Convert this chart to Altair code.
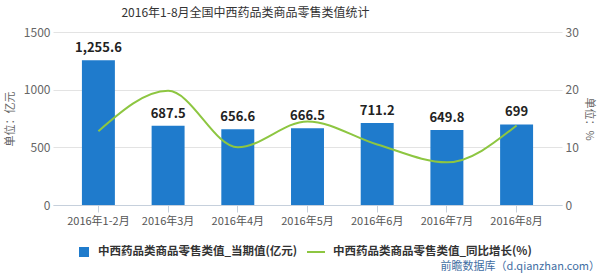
import altair as alt
import pandas as pd

months = ["2016年1-2月", "2016年3月", "2016年4月", "2016年5月", "2016年6月", "2016年7月", "2016年8月"]
values = [1255.6, 687.5, 656.6, 666.5, 711.2, 649.8, 699]
growth = [12.8, 19.8, 10.0, 14.5, 10.5, 7.4, 13.8]
left_ticks = [0, 500, 1000, 1500]
right_ticks = [0, 10, 20, 30]

s1 = "中西药品类商品零售类值_当期值(亿元)"
s2 = "中西药品类商品零售类值_同比增长(%)"

df = pd.DataFrame({"月份": months, "当期值": values, "同比增长": growth, "s1": s1, "s2": s2})

FONT = "Noto Sans CJK SC"
BAR = "#1f7bcc"
LINE = "#8dc641"

x = alt.X("月份:N", sort=months,
          scale=alt.Scale(paddingInner=0.527, paddingOuter=0.415),
          axis=alt.Axis(title=None, labelAngle=0, labelFontSize=11, labelColor="#555",
                        domainColor="#c6d0dc", tickColor="#c6d0dc", tickSize=7,
                        labelPadding=3, grid=False))

bars = alt.Chart(df).mark_bar().encode(
    x=x,
    y=alt.Y("当期值:Q", scale=alt.Scale(domain=[0, 1500]),
            axis=alt.Axis(values=left_ticks, format="d", title="单位：亿元", titleFontSize=11,
                          titleFontWeight="normal", titleColor="#666", titlePadding=8,
                          labelFontSize=12, labelColor="#666", labelPadding=3,
                          tickSize=0, domain=False, grid=True, gridColor="#e3e3e3")),
    fill=alt.Fill("s1:N", scale=alt.Scale(range=[BAR]),
                  legend=alt.Legend(orient="none", legendX=25, legendY=214, title=None,
                                    symbolType="square", symbolSize=100, labelOffset=8)),
)

labels = alt.Chart(df).mark_text(baseline="bottom", dy=-5, fontSize=13, fontWeight="bold",
                                 color="#222", font=FONT).encode(
    x=x,
    y=alt.Y("当期值:Q", scale=alt.Scale(domain=[0, 1500]), axis=None),
    text=alt.Text("当期值:Q", format=","),
)

line = alt.Chart(df).mark_line(interpolate="monotone", strokeWidth=2).encode(
    x=x,
    y=alt.Y("同比增长:Q", scale=alt.Scale(domain=[0, 30]),
            axis=alt.Axis(orient="right", values=right_ticks, title="单位：%", titleAngle=90,
                          titleFontSize=11, titleFontWeight="normal", titleColor="#666",
                          titlePadding=5, labelFontSize=12, labelColor="#666", labelPadding=3,
                          tickSize=0, domain=False, grid=False)),
    stroke=alt.Stroke("s2:N", scale=alt.Scale(range=[LINE]),
                      legend=alt.Legend(orient="none", legendX=253, legendY=210, title=None,
                                        symbolType="stroke", symbolSize=324,
                                        symbolStrokeWidth=2, labelOffset=7)),
)

source = alt.Chart(df).mark_text(align="right", baseline="middle", fontSize=11,
                                 color="#3f6ea3", font=FONT).encode(
    x=alt.value(547), y=alt.value(235), text=alt.value("前瞻数据库（d.qianzhan.com）")
).transform_filter(alt.datum["月份"] == months[0])

chart = alt.layer(bars, labels, line, source).resolve_scale(
    y="independent", fill="independent", stroke="independent"
).properties(
    width=509, height=173,
    padding={"left": 53, "top": 32, "right": 38, "bottom": 71},
    autosize=alt.AutoSizeParams(type="none"),
    title=alt.TitleParams("2016年1-8月全国中西药品类商品零售类值统计", anchor="middle",
                          frame="group", dx=-62, fontSize=12, fontWeight="normal",
                          color="#333", font=FONT, offset=6),
).configure(font=FONT).configure_view(stroke=None).configure_legend(
    labelFont=FONT, labelFontSize=11.5, labelFontWeight="bold", labelColor="#333",
    padding=0, labelLimit=400,
)

chart.save("out.html", embed_options={"renderer": "svg", "actions": False})
